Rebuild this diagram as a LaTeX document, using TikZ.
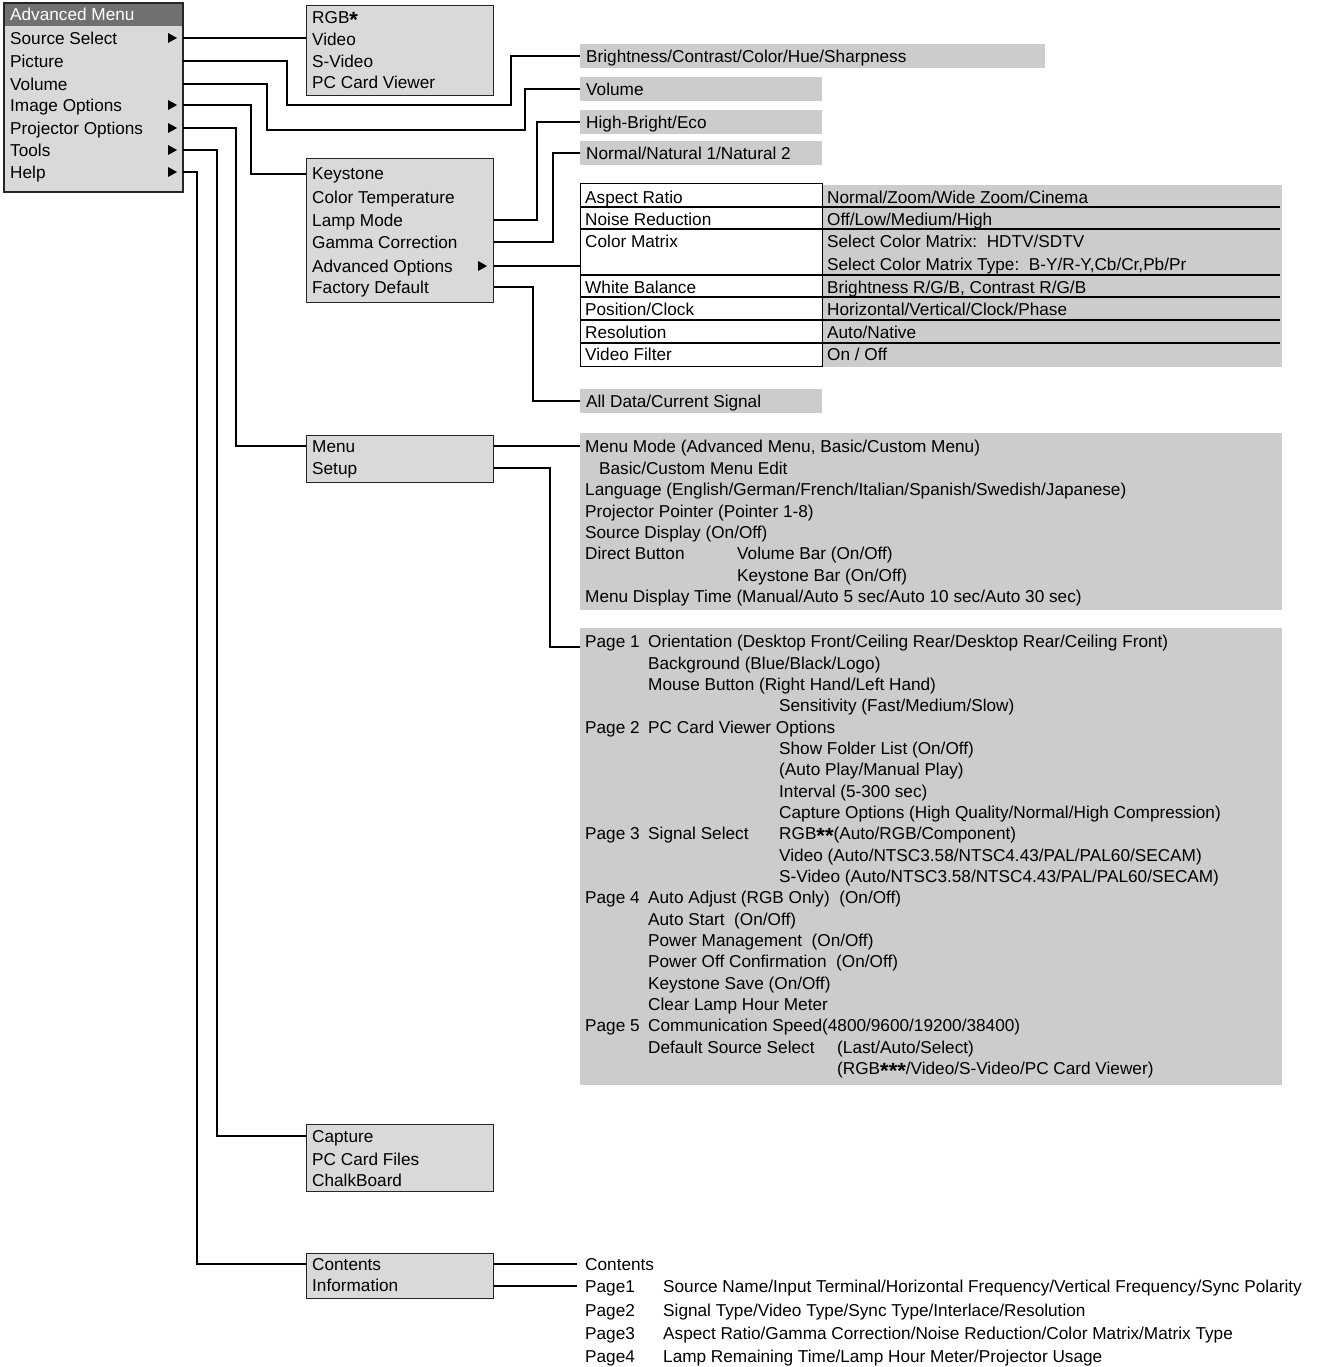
\documentclass[tikz,border=0pt]{standalone}
\usepackage{fontspec}
\setmainfont{Liberation Sans}
\definecolor{boxgray}{HTML}{D9D9D9}
\definecolor{bargray}{HTML}{CCCCCC}
\definecolor{titlegray}{HTML}{707070}
\newcommand\mystarglyph{\raisebox{-4pt}{\fontsize{22}{22}\selectfont\bfseries *}}
\begin{document}
\begin{tikzpicture}[x=1pt,y=-1pt,
  t/.style={anchor=west,inner sep=0pt,text height=12.4pt,text depth=0pt,font=\fontsize{17.2}{20}\selectfont},
  menubox/.style={draw=black!85,fill=boxgray,line width=1.3pt,anchor=north west,inner sep=0pt},
  bar/.style={fill=bargray,anchor=west,inner sep=0pt,minimum height=24pt},
  greyblock/.style={fill=bargray,anchor=north west,inner sep=0pt},
  conn/.style={draw=black,line width=1.2pt},
  tri/.style={fill=black}]
\useasboundingbox (0,0) rectangle (1321,1367);

% ---------- main menu ----------
\node[menubox,minimum width=178pt,minimum height=188pt] (am) at (4,3) {};
\node[fill=titlegray,anchor=north west,inner sep=0pt,minimum width=178pt,minimum height=23pt] (amt) at (4,3) {};
\draw[draw=black!85,line width=1.3pt] (am.north west) rectangle (am.south east);
\node[t,text=white] (amtxt) at (10,14) {Advanced Menu};
\node[t] (ss) at (10,38) {Source Select};
\node[t] (pic) at (10,61) {Picture};
\node[t] (vol) at (10,84) {Volume};
\node[t] (img) at (10,105) {Image Options};
\node[t] (proj) at (10,128) {Projector Options};
\node[t] (tools) at (10,150) {Tools};
\node[t] (help) at (10,172) {Help};
\foreach \yy in {38,105,128,150,172}{\fill[tri] (168,\yy-5) -- (168,\yy+5) -- (177,\yy) -- cycle;}

% ---------- source box ----------
\node[menubox,minimum width=187pt,minimum height=90pt] (rgbbox) at (306,5) {};
\node[t] (rgb) at (312,17) {RGB\mystarglyph};
\node[t] (vid) at (312,39) {Video};
\node[t] (svid) at (312,61) {S-Video};
\node[t] (pccv) at (312,82) {PC Card Viewer};

% ---------- bars ----------
\node[bar,minimum width=465pt] (brtbar) at (580,56) {};
\node[t] (brt) at (586,56) {Brightness/Contrast/Color/Hue/Sharpness};
\node[bar,minimum width=242pt] (volbar) at (580,89) {};
\node[t] (volt) at (586,89) {Volume};
\node[bar,minimum width=242pt] (hbbar) at (580,122) {};
\node[t] (hbt) at (586,122) {High-Bright/Eco};
\node[bar,minimum width=242pt] (nnbar) at (580,153) {};
\node[t] (nnt) at (586,153) {Normal/Natural 1/Natural 2};
\node[bar,minimum width=242pt] (allbar) at (580,401) {};
\node[t] (allt) at (586,401) {All Data/Current Signal};

% ---------- image options box ----------
\node[menubox,minimum width=187pt,minimum height=144pt] (ksbox) at (306,158) {};
\node[t] (kst) at (312,173) {Keystone};
\node[t] (ctp) at (312,197) {Color Temperature};
\node[t] (lamp) at (312,220) {Lamp Mode};
\node[t] (gam) at (312,242) {Gamma Correction};
\node[t] (adv) at (312,266) {Advanced Options};
\node[t] (fac) at (312,287) {Factory Default};
\fill[tri] (478,261) -- (478,271) -- (487,266) -- cycle;

% ---------- advanced options table ----------
\node[fill=bargray,anchor=north west,inner sep=0pt,minimum width=460pt,minimum height=182pt] (tblr) at (822,185) {};
\node[draw=black,line width=1.2pt,fill=white,anchor=north west,inner sep=0pt,minimum width=242pt,minimum height=183pt] (tbl) at (580,183) {};
\foreach \yy in {207,229,275,297,320,343}{\draw[line width=1.2pt] (580,\yy) -- (1280,\yy);}
\node[t] (ar) at (585,197) {Aspect Ratio};
\node[t] (nr) at (585,219) {Noise Reduction};
\node[t] (cm) at (585,241) {Color Matrix};
\node[t] (wb) at (585,287) {White Balance};
\node[t] (pc) at (585,309) {Position/Clock};
\node[t] (rs) at (585,332) {Resolution};
\node[t] (vf) at (585,354) {Video Filter};
\node[t] (arv) at (827,197) {Normal/Zoom/Wide Zoom/Cinema};
\node[t] (nrv) at (827,219) {Off/Low/Medium/High};
\node[t] (cmv) at (827,241) {Select Color Matrix:\ \ HDTV/SDTV};
\node[t] (cmt) at (827,264) {Select Color Matrix Type:\ \ B-Y/R-Y,Cb/Cr,Pb/Pr};
\node[t] (wbv) at (827,287) {Brightness R/G/B, Contrast R/G/B};
\node[t] (pcv) at (827,309) {Horizontal/Vertical/Clock/Phase};
\node[t] (rsv) at (827,332) {Auto/Native};
\node[t] (vfv) at (827,354) {On / Off};

% ---------- projector options ----------
\node[menubox,minimum width=187pt,minimum height=47pt] (mnbox) at (306,435) {};
\node[t] (mnu) at (312,446) {Menu};
\node[t] (stp) at (312,468) {Setup};

\node[greyblock,minimum width=702pt,minimum height=177pt] (setupbg) at (580,433) {};
\node[t] (s1) at (585,446) {Menu Mode (Advanced Menu, Basic/Custom Menu)};
\node[t] (s2) at (599,468) {Basic/Custom Menu Edit};
\node[t] (s3) at (585,489) {Language (English/German/French/Italian/Spanish/Swedish/Japanese)};
\node[t] (s4) at (585,511) {Projector Pointer (Pointer 1-8)};
\node[t] (s5) at (585,532) {Source Display (On/Off)};
\node[t] (s6) at (585,553) {Direct Button};
\node[t] (s6b) at (737,553) {Volume Bar (On/Off)};
\node[t] (s7) at (737,575) {Keystone Bar (On/Off)};
\node[t] (s8) at (585,596) {Menu Display Time (Manual/Auto 5 sec/Auto 10 sec/Auto 30 sec)};

\node[greyblock,minimum width=702pt,minimum height=457pt] (pagebg) at (580,628) {};
\node[t] (pg1) at (585,641) {Page 1};
\node[t] (o1) at (648,641) {Orientation (Desktop Front/Ceiling Rear/Desktop Rear/Ceiling Front)};
\node[t] (o2) at (648,663) {Background (Blue/Black/Logo)};
\node[t] (o3) at (648,684) {Mouse Button (Right Hand/Left Hand)};
\node[t] (o4) at (779,705) {Sensitivity (Fast/Medium/Slow)};
\node[t] (pg2) at (585,727) {Page 2};
\node[t] (o5) at (648,727) {PC Card Viewer Options};
\node[t] (o6) at (779,748) {Show Folder List (On/Off)};
\node[t] (o7) at (779,769) {(Auto Play/Manual Play)};
\node[t] (o8) at (779,791) {Interval (5-300 sec)};
\node[t] (o9) at (779,812) {Capture Options (High Quality/Normal/High Compression)};
\node[t] (pg3) at (585,833) {Page 3};
\node[t] (o10) at (648,833) {Signal Select};
\node[t] (o11) at (779,833) {RGB\mystarglyph\mystarglyph(Auto/RGB/Component)};
\node[t] (o12) at (779,855) {Video (Auto/NTSC3.58/NTSC4.43/PAL/PAL60/SECAM)};
\node[t] (o13) at (779,876) {S-Video (Auto/NTSC3.58/NTSC4.43/PAL/PAL60/SECAM)};
\node[t] (pg4) at (585,897) {Page 4};
\node[t] (o14) at (648,897) {Auto Adjust (RGB Only)\ \ (On/Off)};
\node[t] (o15) at (648,919) {Auto Start\ \ (On/Off)};
\node[t] (o16) at (648,940) {Power Management\ \ (On/Off)};
\node[t] (o17) at (648,961) {Power Off Confirmation\ \ (On/Off)};
\node[t] (o18) at (648,983) {Keystone Save (On/Off)};
\node[t] (o19) at (648,1004) {Clear Lamp Hour Meter};
\node[t] (pg5) at (585,1025) {Page 5};
\node[t] (o20) at (648,1025) {Communication Speed(4800/9600/19200/38400)};
\node[t] (o21) at (648,1047) {Default Source Select};
\node[t] (o22) at (837,1047) {(Last/Auto/Select)};
\node[t] (o23) at (837,1068) {(RGB\mystarglyph\mystarglyph\mystarglyph/Video/S-Video/PC Card Viewer)};

% ---------- tools ----------
\node[menubox,minimum width=187pt,minimum height=67pt] (capbx) at (306,1124) {};
\node[t] (cap) at (312,1136) {Capture};
\node[t] (pcf) at (312,1159) {PC Card Files};
\node[t] (chb) at (312,1180) {ChalkBoard};

% ---------- help ----------
\node[menubox,minimum width=187pt,minimum height=45pt] (conbx) at (306,1253) {};
\node[t] (con) at (312,1264) {Contents};
\node[t] (inf) at (312,1285) {Information};
\node[t] (hcon) at (585,1264) {Contents};
\node[t] (hp1) at (585,1286) {Page1};
\node[t] (hp1v) at (663,1286) {Source Name/Input Terminal/Horizontal Frequency/Vertical Frequency/Sync Polarity};
\node[t] (hp2) at (585,1310) {Page2};
\node[t] (hp2v) at (663,1310) {Signal Type/Video Type/Sync Type/Interlace/Resolution};
\node[t] (hp3) at (585,1333) {Page3};
\node[t] (hp3v) at (663,1333) {Aspect Ratio/Gamma Correction/Noise Reduction/Color Matrix/Matrix Type};
\node[t] (hp4) at (585,1356) {Page4};
\node[t] (hp4v) at (663,1356) {Lamp Remaining Time/Lamp Hour Meter/Projector Usage};

% ---------- connectors ----------
\draw[conn] (am.east |- ss) -- (rgbbox.west |- ss);
\draw[conn] (am.east |- pic) -| (287,105) -| (511,56) -- (brtbar.west);
\draw[conn] (am.east |- vol) -| (267,130) -| (525,89) -- (volbar.west);
\draw[conn] (am.east |- img) -| (251,174) -- (ksbox.west |- 251,174);
\draw[conn] (am.east |- proj) -| (236,446) -- (mnbox.west |- mnu);
\draw[conn] (am.east |- tools) -| (217,1136) -- (capbx.west |- cap);
\draw[conn] (am.east |- help) -| (197,1264) -- (conbx.west |- con);
\draw[conn] (ksbox.east |- lamp) -| (537,122) -- (hbbar.west);
\draw[conn] (ksbox.east |- gam) -| (553,153) -- (nnbar.west);
\draw[conn] (ksbox.east |- adv) -- (tbl.west |- adv);
\draw[conn] (ksbox.east |- fac) -| (533,401) -- (allbar.west);
\draw[conn] (mnbox.east |- mnu) -- (setupbg.west |- mnu);
\draw[conn] (mnbox.east |- stp) -| (550,647) -- (pagebg.west |- 550,647);
\draw[conn,shorten >=8pt] (conbx.east |- con) -- (hcon.west);
\draw[conn,shorten >=8pt] (conbx.east |- hp1) -- (hp1.west);
\end{tikzpicture}
\end{document}
